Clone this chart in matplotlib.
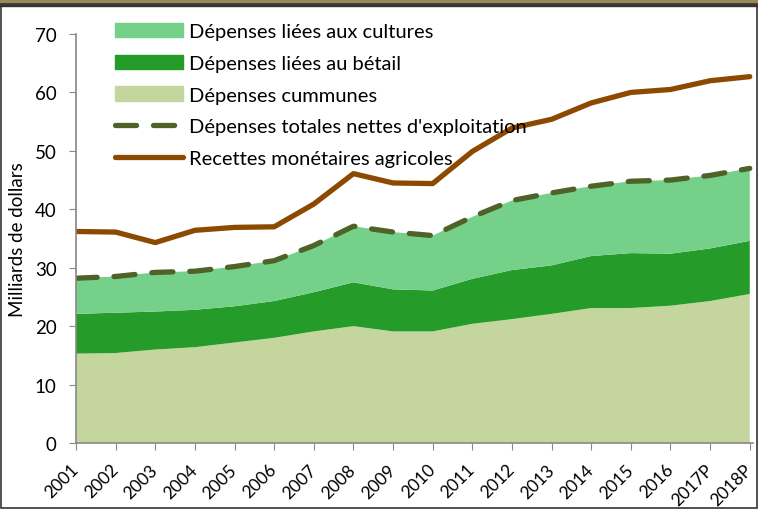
import matplotlib.pyplot as plt
import numpy as np
from matplotlib.patches import Rectangle

plt.rcParams['font.family'] = ['Lato', 'DejaVu Sans']

annees = ['2001', '2002', '2003', '2004', '2005', '2006', '2007', '2008', '2009',
          '2010', '2011', '2012', '2013', '2014', '2015', '2016', '2017P', '2018P']

# milliards de dollars
communes = [15.3, 15.4, 16.0, 16.4, 17.2, 18.0, 19.1, 20.0, 19.1,
            19.1, 20.4, 21.2, 22.1, 23.1, 23.1, 23.5, 24.3, 25.5]
betail = [6.8, 6.9, 6.5, 6.4, 6.2, 6.3, 6.7, 7.5, 7.2,
          7.0, 7.7, 8.4, 8.3, 8.9, 9.4, 8.9, 9.0, 9.1]
cultures = [6.1, 6.2, 6.7, 6.6, 6.8, 6.9, 8.0, 9.6, 9.8,
            9.4, 10.6, 11.9, 12.4, 11.95, 12.3, 12.6, 12.5, 12.4]
recettes = [36.2, 36.1, 34.3, 36.4, 36.9, 37.0, 40.9, 46.1, 44.5,
            44.4, 49.9, 53.9, 55.4, 58.2, 60.0, 60.5, 62.0, 62.7]

x = np.arange(len(annees))
total = np.array(communes) + np.array(betail) + np.array(cultures)

fig = plt.figure(figsize=(7.58, 5.10), dpi=100)
ax = fig.add_axes([0.1003, 0.1294, 0.893, 0.802])

ax.stackplot(x, communes, betail, cultures,
             colors=['#C4D69D', '#259B2A', '#75D08A'], linewidth=0)
ln_tot, = ax.plot(x, total, color='#4F6228', lw=3.8, dashes=(4, 3.2),
                  dash_capstyle='round', solid_capstyle='round')
ln_rec, = ax.plot(x, recettes, color='#8B4A00', lw=3.8, solid_capstyle='round')

ax.set_xlim(0, 17.08)
ax.set_ylim(0, 70)
ax.set_yticks(range(0, 71, 10))
ax.set_xticks(x)
ax.set_xticklabels(annees, rotation=45, ha='right', va='center',
                   rotation_mode='anchor')
ax.tick_params(axis='both', labelsize=13.5, color='#888888', length=5)
ax.tick_params(axis='y', pad=9)
ax.tick_params(axis='x', pad=12, labelsize=12.5)
for s in ['top', 'right']:
    ax.spines[s].set_visible(False)
for s in ['left', 'bottom']:
    ax.spines[s].set_color('#888888')
    ax.spines[s].set_linewidth(1.2)
ax.set_ylabel('Milliards de dollars', fontsize=13.5, labelpad=6)

handles = [Rectangle((0, 0), 1, 1, color='#75D08A'),
           Rectangle((0, 0), 1, 1, color='#259B2A'),
           Rectangle((0, 0), 1, 1, color='#C4D69D'),
           ln_tot, ln_rec]
labels = ['Dépenses liées aux cultures', 'Dépenses liées au bétail',
          'Dépenses cummunes', "Dépenses totales nettes d'exploitation",
          'Recettes monétaires agricoles']
ax.legend(handles, labels, loc='upper left', bbox_to_anchor=(0.045, 1.046),
          frameon=False, fontsize=14.5, handlelength=3.4, labelspacing=0.72,
          handletextpad=0.3, borderaxespad=0)

# bandeau et cadre
fig.patches.append(Rectangle((0, 0.988), 1, 0.012, transform=fig.transFigure,
                             color='#978A55', zorder=0))
fig.patches.append(Rectangle((0, 0.986), 1, 0.003, transform=fig.transFigure,
                             color='#333333', zorder=0))
fig.patches.append(Rectangle((0.001, 0.001), 0.998, 0.99, transform=fig.transFigure,
                             fill=False, ec='#333333', lw=1.2, zorder=0))

fig.savefig('out.png', dpi=100)
